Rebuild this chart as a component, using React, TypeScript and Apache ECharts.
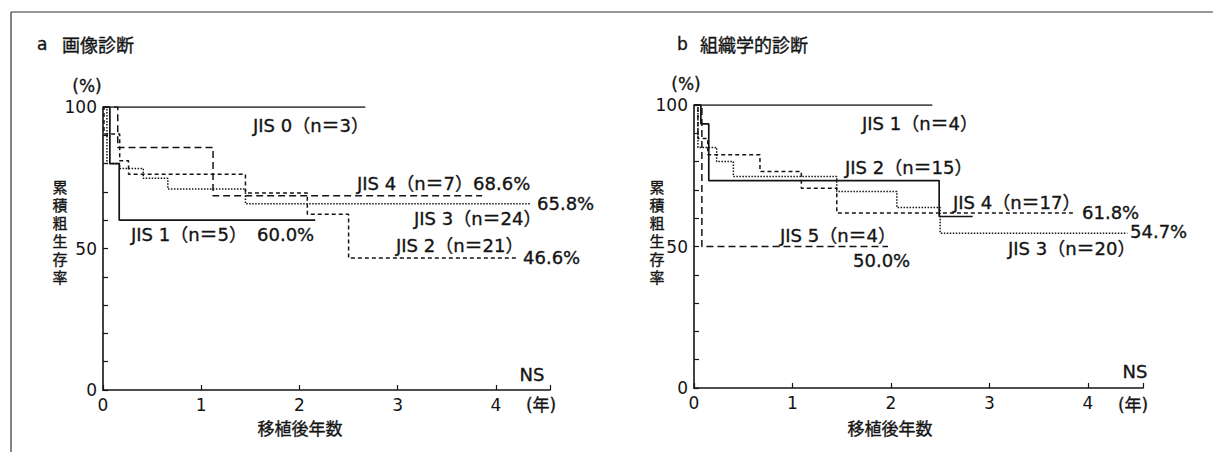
import React, { useEffect, useRef } from "react";
import * as echarts from "echarts";

// ---- data (years after transplant, cumulative crude survival %) ----
const xTicks = ["0", "1", "2", "3", "4"];
const yTickLabels = [0, 50, 100];
const yTitleChars = ["累", "積", "粗", "生", "存", "率"];

// panel a: 画像診断
const aJIS0 = [[0, 100], [2.67, 100]];
const aJIS1 = [[0, 100], [0.07, 80], [0.165, 60], [2.16, 60]];
const aJIS4 = [[0, 100], [0.15, 85.7], [1.12, 68.6], [3.86, 68.6]];
const aJIS2 = [[0, 100], [0.01, 90.5], [0.17, 81], [0.26, 76.2], [1.45, 69.6], [2.08, 62.1], [2.5, 46.6], [4.23, 46.6]];
const aJIS3 = [[0, 100], [0.04, 80], [0.17, 78.3], [0.41, 74.8], [0.66, 71], [1.45, 65.8], [4.35, 65.8]];

// panel b: 組織学的診断
const bJIS1 = [[0, 100], [2.42, 100]];
const bJIS2 = [[0, 100], [0.07, 93.3], [0.15, 73.3], [2.49, 60.6], [2.83, 60.6]];
const bJIS5 = [[0, 100], [0.08, 50], [1.97, 50]];
const bJIS4 = [[0, 100], [0.04, 88.2], [0.14, 82.4], [0.67, 76.5], [1.09, 70.6], [1.45, 61.8], [3.87, 61.8]];
const bJIS3 = [[0, 100], [0.04, 85], [0.23, 80], [0.4, 74.7], [1.45, 69.4], [2.06, 63.8], [2.5, 54.7], [4.4, 54.7]];

const INK = "#141414";
const LAT = "'DejaVu Sans', 'Noto Sans CJK JP', sans-serif";
const CJK = "'Noto Sans CJK JP', sans-serif";

const SOLID = "solid";
const LONG = [7, 4];
const SHORT = [4, 3];
const DOT = [1.5, 1.5];

function txt(text: string, x: number, y: number, size = 18, align = "left", font = LAT, weight = "normal") {
  return {
    type: "text",
    x,
    y,
    silent: true,
    style: {
      text,
      fill: INK,
      stroke: INK,
      lineWidth: 0.35,
      font: `${weight} ${size}px ${font}`,
      align,
      verticalAlign: "middle",
      textAlign: align,
      textVerticalAlign: "middle",
    },
  };
}

function vTitle(cx: number, centerY: number) {
  const step = 18;
  const top = centerY - (step * yTitleChars.length) / 2 + step / 2;
  return yTitleChars.map((c, i) => txt(c, cx, top + i * step, 15, "center", LAT));
}

export default function App() {
  const ref = useRef<HTMLDivElement>(null);
  useEffect(() => {
    if (!ref.current) return;
    const chart = echarts.init(ref.current, undefined, { renderer: "svg" });

    const xAxisBase = (gridIndex: number, max: number) => ({
      type: "value",
      gridIndex,
      min: 0,
      max,
      interval: 1,
      axisLine: { show: true, onZero: false, lineStyle: { color: INK, width: 1.6 } },
      axisTick: { show: true, inside: true, length: 5, lineStyle: { color: INK, width: 1.2 } },
      axisLabel: {
        color: INK,
        fontSize: 17,
        fontFamily: LAT,
        margin: 6,
        formatter: (v: number) => (Number.isInteger(v) && v <= 4 ? xTicks[v] : ""),
      },
      splitLine: { show: false },
    });
    const yAxisBase = (gridIndex: number) => ({
      type: "value",
      gridIndex,
      min: 0,
      max: 100,
      interval: 10,
      axisLine: { show: true, lineStyle: { color: INK, width: 1.6 } },
      axisTick: { show: true, inside: true, length: 5, lineStyle: { color: INK, width: 1.2 } },
      axisLabel: {
        color: INK,
        fontSize: 17,
        fontFamily: LAT,
        margin: 6,
        formatter: (v: number) => (yTickLabels.includes(v) ? String(v) : ""),
      },
      splitLine: { show: false },
    });

    const curve = (name: string, data: number[][], idx: number, type: any) => ({
      name,
      type: "line",
      xAxisIndex: idx,
      yAxisIndex: idx,
      data,
      step: "end",
      symbol: "none",
      silent: true,
      lineStyle: { color: INK, width: type === SOLID ? 1.7 : 1.5, type },
      z: 3,
    });

    chart.setOption({
      animation: false,
      backgroundColor: "#ffffff",
      grid: [
        { left: 103, top: 107, width: 447, height: 283 },
        { left: 694, top: 105, width: 449, height: 283 },
      ],
      xAxis: [xAxisBase(0, 4.55), xAxisBase(1, 4.56)],
      yAxis: [yAxisBase(0), yAxisBase(1)],
      series: [
        curve("a JIS 0", aJIS0, 0, SOLID),
        curve("a JIS 1", aJIS1, 0, SOLID),
        curve("a JIS 4", aJIS4, 0, LONG),
        curve("a JIS 2", aJIS2, 0, SHORT),
        curve("a JIS 3", aJIS3, 0, DOT),
        curve("b JIS 1", bJIS1, 1, SOLID),
        curve("b JIS 2", bJIS2, 1, SOLID),
        curve("b JIS 5", bJIS5, 1, LONG),
        curve("b JIS 4", bJIS4, 1, SHORT),
        curve("b JIS 3", bJIS3, 1, DOT),
      ],
      graphic: [
        // frame
        { type: "line", silent: true, shape: { x1: 11, y1: 12, x2: 1213, y2: 12 }, style: { stroke: "#333", lineWidth: 1.2 } },
        { type: "line", silent: true, shape: { x1: 11, y1: 12, x2: 11, y2: 452 }, style: { stroke: "#333", lineWidth: 1.2 } },
        // panel a
        txt("a", 37, 44, 17),
        txt("画像診断", 62, 44, 18, "left", CJK),
        txt("(%)", 87, 86, 17, "center"),
        ...vTitle(60, 233),
        txt("(年)", 541, 405, 17, "center", LAT),
        txt("移植後年数", 300, 429, 17, "center", LAT),
        txt("NS", 532, 374, 18, "center"),
        txt("JIS 0（n＝3）", 253, 125),
        txt("JIS 4（n＝7）68.6%", 357, 183),
        txt("65.8%", 537, 203),
        txt("JIS 3（n＝24）", 414, 218),
        txt("JIS 1（n＝5）", 131, 234),
        txt("60.0%", 257, 234),
        txt("JIS 2（n＝21）", 396, 245),
        txt("46.6%", 523, 257),
        // panel b
        txt("b", 677, 44, 17),
        txt("組織学的診断", 700, 44, 18, "left", CJK),
        txt("(%)", 686, 84, 17, "center"),
        ...vTitle(657, 233),
        txt("(年)", 1133, 405, 17, "center", LAT),
        txt("移植後年数", 890, 429, 17, "center", LAT),
        txt("NS", 1135, 371, 18, "center"),
        txt("JIS 1（n＝4）", 862, 123),
        txt("JIS 2（n＝15）", 845, 167),
        txt("JIS 4（n＝17）", 953, 202),
        txt("61.8%", 1082, 212),
        txt("54.7%", 1130, 231),
        txt("JIS 3（n＝20）", 1008, 248),
        txt("JIS 5（n＝4）", 780, 235),
        txt("50.0%", 853, 260),
      ],
    });
    return () => chart.dispose();
  }, []);
  return <div ref={ref} style={{ position: "fixed", left: 0, top: 0, width: 1213, height: 452 }} />;
}
